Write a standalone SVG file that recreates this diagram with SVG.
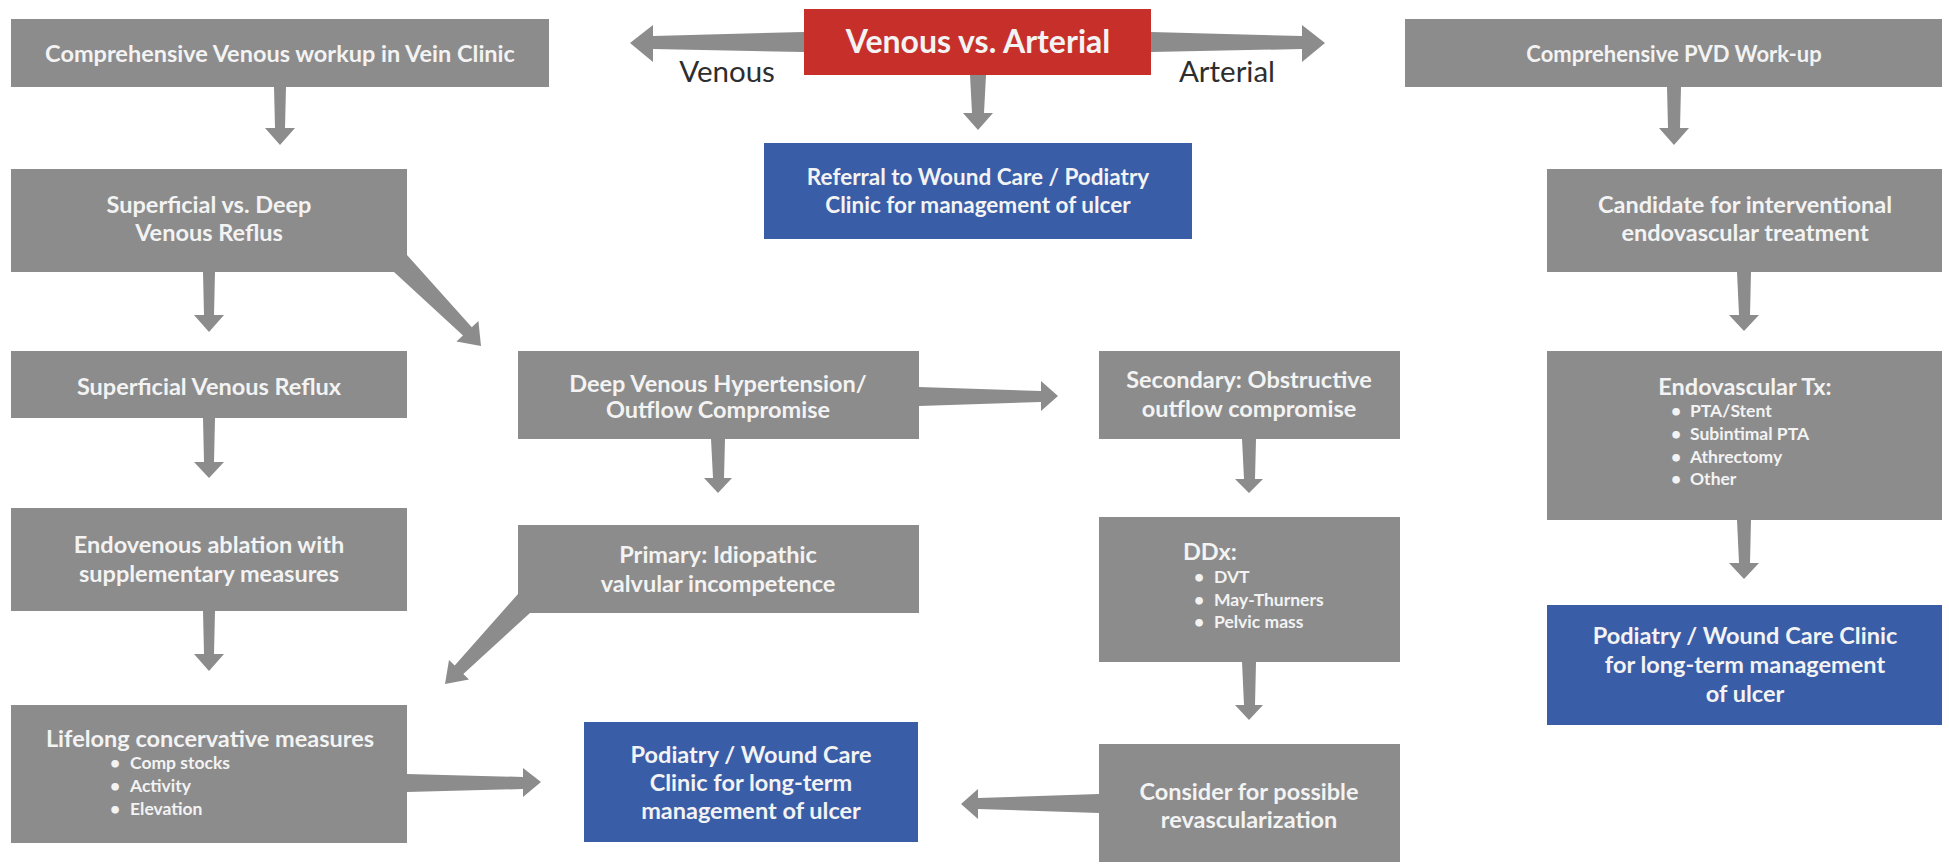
<svg xmlns="http://www.w3.org/2000/svg" width="1949" height="864" viewBox="0 0 1949 864">
<style>
.g{fill:#8c8c8c}
.r{fill:#c72f2a}
.b{fill:#3a5da8}
.c{fill:#8c8c8c}
.t{font-family:Lato,"Liberation Sans",sans-serif;font-weight:bold;font-size:23.5px;fill:#f3f3f3;text-anchor:middle}
.s{font-family:Lato,"Liberation Sans",sans-serif;font-weight:bold;font-size:17.5px;fill:#f3f3f3}
.h{font-family:Lato,"Liberation Sans",sans-serif;font-weight:bold;font-size:23.5px;fill:#f3f3f3}
.l{font-family:Lato,"Liberation Sans",sans-serif;font-size:29.5px;fill:#2e2e2e;text-anchor:middle}
</style>
<rect width="1949" height="864" fill="#fff"/>
<g id="connectors">
<polygon class="c" points="274,87 286,87 285,128 295,128 280,145 265,128 275,128"/>
<polygon class="c" points="203,272 215,272 214,315 224,315 209,332 194,315 204,315"/>
<polygon class="c" points="203,418 215,418 214,462 224,462 209,478 194,462 204,462"/>
<polygon class="c" points="203,611 215,611 214,654 224,654 209,671 194,654 204,654"/>
<polygon class="c" points="970,75 986,75 984,113 993,113 978,130 963,113 972,113"/>
<polygon class="c" points="1667,87 1681,87 1680,128 1689,128 1674,145 1659,128 1668,128"/>
<polygon class="c" points="1737,272 1751,272 1750,315 1759,315 1744,331 1729,315 1739,315"/>
<polygon class="c" points="711,439 725,439 724,478 732,478 718,493 704,478 713,478"/>
<polygon class="c" points="1242,439 1256,439 1255,479 1263,479 1249,493 1235,479 1244,479"/>
<polygon class="c" points="1242,662 1256,662 1255,705 1263,705 1249,720 1235,705 1244,705"/>
<polygon class="c" points="1737,520 1751,520 1750,563 1759,563 1744,579 1729,563 1739,563"/>
<polygon class="c" points="804,32 804,52 653,49 653,62 630,43 653,25 653,36"/>
<polygon class="c" points="1151,32 1151,52 1302,49 1302,62 1325,43 1302,25 1302,36"/>
<polygon class="c" points="919,387 919,406 1041,402 1041,411 1058,396 1041,381 1041,391"/>
<polygon class="c" points="407,774 407,792 523,789 523,797 541,782 523,768 523,777"/>
<polygon class="c" points="1099,794 1099,813 978,809 978,819 961,804 978,789 978,798"/>
<polygon class="c" points="407,255 471.8,327.2 478.4,321.1 481,346 456.4,341.5 463,335.4 394,272"/>
<polygon class="c" points="518,594 454.7,665.5 449,660 445,684 469,679.5 463.3,673.9 530,613"/>
</g>
<g id="n-top">
<rect class="r" x="804" y="9" width="347" height="66"/>
<text class="t" x="978" y="53" style="font-size:32px">Venous vs. Arterial</text>
</g>
<g id="lbl-venous"><text class="l" x="727" y="82">Venous</text></g>
<g id="lbl-arterial"><text class="l" x="1227" y="82">Arterial</text></g>
<g id="n-referral">
<rect class="b" x="764" y="143" width="428" height="96"/>
<text class="t" x="978" y="185" style="font-size:22.5px">Referral to Wound Care / Podiatry</text>
<text class="t" x="978" y="213" style="font-size:22.5px">Clinic for management of ulcer</text>
</g>
<g id="n-venwork">
<rect class="g" x="11" y="19" width="538" height="68"/>
<text class="t" x="280" y="62">Comprehensive Venous workup in Vein Clinic</text>
</g>
<g id="n-supdeep">
<rect class="g" x="11" y="169" width="396" height="103"/>
<text class="t" x="209" y="213">Superficial vs. Deep</text>
<text class="t" x="209" y="241">Venous Reflus</text>
</g>
<g id="n-sup">
<rect class="g" x="11" y="351" width="396" height="67"/>
<text class="t" x="209" y="395">Superficial Venous Reflux</text>
</g>
<g id="n-endo">
<rect class="g" x="11" y="508" width="396" height="103"/>
<text class="t" x="209" y="553">Endovenous ablation with</text>
<text class="t" x="209" y="582">supplementary measures</text>
</g>
<g id="n-life">
<rect class="g" x="11" y="705" width="396" height="138"/>
<text class="t" x="210" y="747">Lifelong concervative measures</text>
<text class="s" x="110" y="769">•</text><text class="s" x="130" y="769">Comp stocks</text>
<text class="s" x="110" y="792">•</text><text class="s" x="130" y="792">Activity</text>
<text class="s" x="110" y="815">•</text><text class="s" x="130" y="815">Elevation</text>
</g>
<g id="n-pod1">
<rect class="b" x="584" y="722" width="334" height="120"/>
<text class="t" x="751" y="763">Podiatry / Wound Care</text>
<text class="t" x="751" y="791">Clinic for long-term</text>
<text class="t" x="751" y="819">management of ulcer</text>
</g>
<g id="n-deep">
<rect class="g" x="518" y="351" width="401" height="88"/>
<text class="t" x="718" y="392">Deep Venous Hypertension/</text>
<text class="t" x="718" y="418">Outflow Compromise</text>
</g>
<g id="n-primary">
<rect class="g" x="518" y="525" width="401" height="88"/>
<text class="t" x="718" y="563">Primary: Idiopathic</text>
<text class="t" x="718" y="592">valvular incompetence</text>
</g>
<g id="n-secondary">
<rect class="g" x="1099" y="351" width="301" height="88"/>
<text class="t" x="1249" y="388">Secondary: Obstructive</text>
<text class="t" x="1249" y="417">outflow compromise</text>
</g>
<g id="n-ddx">
<rect class="g" x="1099" y="517" width="301" height="145"/>
<text class="h" x="1183" y="560">DDx:</text>
<text class="s" x="1194" y="583">•</text><text class="s" x="1214" y="583">DVT</text>
<text class="s" x="1194" y="606">•</text><text class="s" x="1214" y="606">May-Thurners</text>
<text class="s" x="1194" y="628">•</text><text class="s" x="1214" y="628">Pelvic mass</text>
</g>
<g id="n-consider">
<rect class="g" x="1099" y="744" width="301" height="118"/>
<text class="t" x="1249" y="800">Consider for possible</text>
<text class="t" x="1249" y="828">revascularization</text>
</g>
<g id="n-pvd">
<rect class="g" x="1405" y="19" width="537" height="68"/>
<text class="t" x="1674" y="62" style="font-size:22px">Comprehensive PVD Work-up</text>
</g>
<g id="n-cand">
<rect class="g" x="1547" y="169" width="395" height="103"/>
<text class="t" x="1745" y="213">Candidate for interventional</text>
<text class="t" x="1745" y="241">endovascular treatment</text>
</g>
<g id="n-endotx">
<rect class="g" x="1547" y="351" width="395" height="169"/>
<text class="t" x="1745" y="395">Endovascular Tx:</text>
<text class="s" x="1671" y="417">•</text><text class="s" x="1690" y="417">PTA/Stent</text>
<text class="s" x="1671" y="440">•</text><text class="s" x="1690" y="440">Subintimal PTA</text>
<text class="s" x="1671" y="463">•</text><text class="s" x="1690" y="463">Athrectomy</text>
<text class="s" x="1671" y="485">•</text><text class="s" x="1690" y="485">Other</text>
</g>
<g id="n-pod2">
<rect class="b" x="1547" y="605" width="395" height="120"/>
<text class="t" x="1745" y="644">Podiatry / Wound Care Clinic</text>
<text class="t" x="1745" y="673">for long-term management</text>
<text class="t" x="1745" y="702">of ulcer</text>
</g>
</svg>
